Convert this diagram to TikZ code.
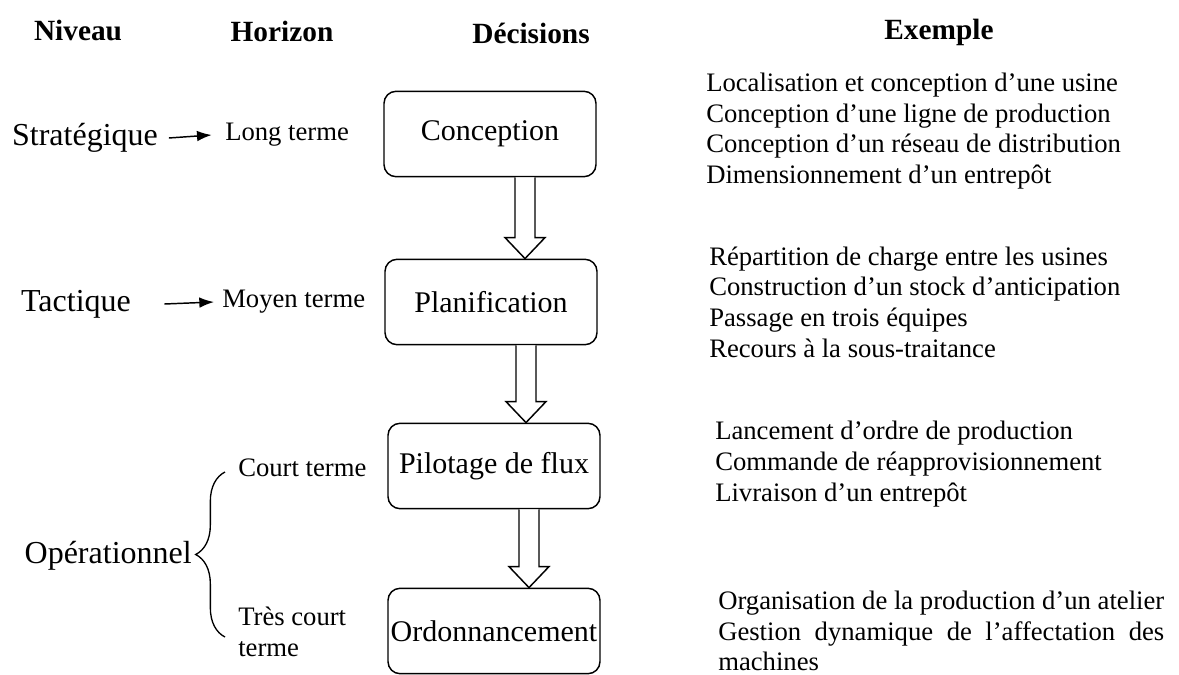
\documentclass[tikz,border=0pt]{standalone}
\usepackage{fontspec}
\setmainfont{Liberation Serif}
\usetikzlibrary{calc,arrows.meta,decorations.pathreplacing,positioning}

\newlength\largeur

\tikzset{
  titre/.style={inner sep=0pt, font=\fontsize{22}{26}\selectfont\bfseries},
  niveau/.style={inner sep=0pt, font=\fontsize{24}{28}\selectfont},
  horizon/.style={inner sep=0pt, anchor=west, align=left, font=\fontsize{20}{23}\selectfont},
  decision/.style={draw, line width=1.1pt, rounded corners=9pt, minimum width=159pt,
    minimum height=64pt, inner sep=1pt, font=\fontsize{22.5}{27}\selectfont},
  exemple/.style={inner sep=0pt, anchor=west, align=left, font=\fontsize{20}{23}\selectfont},
  fleche/.style={line width=1.1pt, -{Latex[length=11pt,width=8pt]}},
  creux/.style={line width=1.1pt, fill=white, line join=miter},
  accolade/.style={line width=1pt, decorate, decoration={brace,amplitude=22pt}}
}

\begin{document}
\settowidth\largeur{\fontsize{20}{23}\selectfont Organisation de la production d’un atelier}
\begin{tikzpicture}[x=0.75pt,y=-0.75pt]
\useasboundingbox (0,0) rectangle (1179,675);

% titres des colonnes
\node[titre] (tniv) at (78,31) {Niveau};
\node[titre] (thor) at (282,31) {Horizon};
\node[titre] (tdec) at (531,33) {Décisions};
\node[titre] (tex) at (939,32) {Exemple};

% decisions
\node[decision] (conc) at (490,134) {Conception};
\node[decision] (plan) at (491,302) {Planification};
\node[decision] (pilo) at (494,466) {Pilotage de flux};
\node[decision] (ordo) at (494,631) {Ordonnancement};

% fleches creuses entre les decisions
\foreach \haut/\bas in {conc/plan,plan/pilo,pilo/ordo}
  \draw[creux] ($(\haut.south)+(25,0)$) -- ($(\haut.south |- \bas.north)+(25,-21)$)
    -- ($(\haut.south |- \bas.north)+(15,-21)$) -- ($(\haut.south |- \bas.north)+(35,0)$)
    -- ($(\haut.south |- \bas.north)+(55,-21)$) -- ($(\haut.south |- \bas.north)+(45,-21)$)
    -- ($(\haut.south)+(45,0)$);

% niveaux et horizons
\node[niveau] (strat) at (85,138) {Stratégique};
\node[niveau] (tact) at (76,304) {Tactique};
\node[niveau, anchor=east] (oper) at (192,556) {Opérationnel};

\node[horizon] (long) at (225,135) {Long terme};
\node[horizon] (moyen) at (222,302) {Moyen terme};
\node[horizon] (court) at (238,468) {Court terme};
\node[horizon] (tres) at (238,632) {Très court\\terme};

\draw[fleche] ([xshift=8pt]strat.east) -- ([xshift=-10pt]long.west);
\draw[fleche] ([xshift=25pt]tact.east) -- ([xshift=-6pt]moyen.west);

\coordinate (bh) at (225,472);
\coordinate (bb) at (225,637);
\draw[accolade] (bb) -- (bh);

% exemples
\node[exemple] (ex1) at (706,131) {Localisation et conception d’une usine\\
  Conception d’une ligne de production\\
  Conception d’un réseau de distribution\\
  Dimensionnement d’un entrepôt};
\node[exemple] (ex2) at (709,302) {Répartition de charge entre les usines\\
  Construction d’un stock d’anticipation\\
  Passage en trois équipes\\
  Recours à la sous-traitance};
\node[exemple] (ex3) at (715,464) {Lancement d’ordre de production\\
  Commande de réapprovisionnement\\
  Livraison d’un entrepôt};
\node[exemple] (ex4) at (718,631)
  {Organisation de la production d’un atelier\\
  \makebox[\largeur][s]{Gestion dynamique de l’affectation des}\\
  machines};

\end{tikzpicture}
\end{document}
